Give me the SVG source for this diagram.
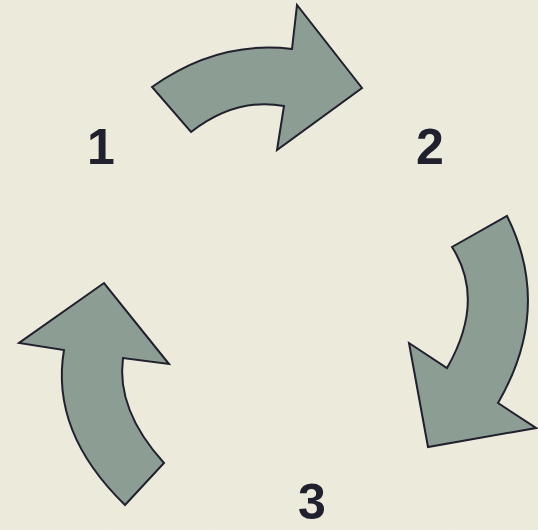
<svg xmlns="http://www.w3.org/2000/svg" width="538" height="530" viewBox="0 0 538 530">
<defs>
<filter id="tex" x="0" y="0" width="100%" height="100%">
<feTurbulence type="fractalNoise" baseFrequency="0.9 0.35" numOctaves="2" seed="3" result="n"/>
<feColorMatrix in="n" type="matrix" values="0 0 0 0 0.87  0 0 0 0 0.86  0 0 0 0 0.78  0 0 0 0.55 0" result="c"/>
<feComposite in="c" in2="SourceGraphic" operator="over"/>
</filter>
<style>
.arrow{fill:#8c9d94;stroke:#20202e;stroke-width:2;stroke-linejoin:miter}
.lbl{font-family:"Liberation Sans",Arial,sans-serif;font-weight:bold;font-size:50px;fill:#20202e;text-anchor:middle}
</style>
</defs>
<rect width="538" height="530" fill="#ecead9"/>
<rect width="538" height="530" fill="#ecead9" filter="url(#tex)" opacity="0.6"/>
<g id="connectors">
<g id="arrow-1-2"><path class="arrow" d="M152,87 Q218,40 292,49 L297,5 L362,88 L277,150 L284,106 Q236,97 191,132 Z"/></g>
<g id="arrow-2-3"><path class="arrow" d="M507,216 Q553,308 498,403 L536,428 L428,447 L409,343 L447,368 Q486,300 452,247 Z"/></g>
<g id="arrow-3-1"><path class="arrow" d="M125,505 Q50,432 64,350 L19,343 L104,283 L169,364 L123,358 Q116,410 164,463 Z"/></g>
</g>
<g id="node-1"><text class="lbl" x="101" y="164">1</text></g>
<g id="node-2"><text class="lbl" x="430" y="164">2</text></g>
<g id="node-3"><text class="lbl" x="312" y="519">3</text></g>
</svg>
